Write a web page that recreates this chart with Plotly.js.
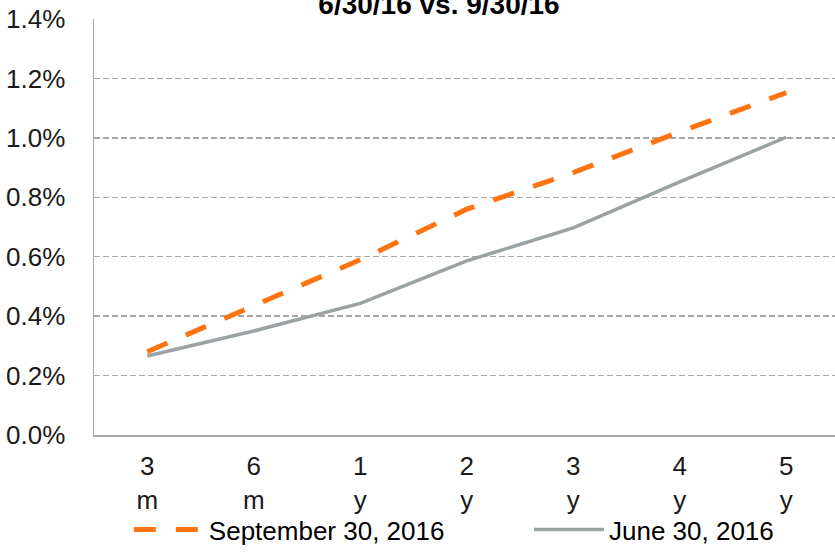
<!DOCTYPE html>
<html>
<head>
<meta charset="utf-8">
<script src="https://cdn.plot.ly/plotly-3.0.1.min.js"></script>
<style>html,body{margin:0;padding:0;background:#fff;overflow:hidden}</style>
</head>
<body>
<div id="chart" style="width:835px;height:553px"></div>
<script>
const categories = ["3<br>m", "6<br>m", "1<br>y", "2<br>y", "3<br>y", "4<br>y", "5<br>y"];
const sept2016 = [0.28, 0.435, 0.59, 0.76, 0.883, 1.02, 1.152];
const june2016 = [0.266, 0.35, 0.443, 0.586, 0.697, 0.852, 1.002];
const seriesNames = ["September 30, 2016", "June 30, 2016"];
const titleText = "6/30/16 vs. 9/30/16";

const FONT = "Liberation Sans, Arial, sans-serif";

const traces = [
  {
    x: categories, y: sept2016, name: seriesNames[0], type: "scatter", mode: "lines",
    line: {color: "#FF7410", width: 5, dash: "22px,20px"}, legend: "legend"
  },
  {
    x: categories, y: june2016, name: seriesNames[1], type: "scatter", mode: "lines",
    line: {color: "#9BA2A4", width: 3.5}, legend: "legend2"
  }
];

const legendBase = {
  orientation: "h", xanchor: "left", y: -0.006, yanchor: "bottom", yref: "container",
  font: {family: FONT, size: 26, color: "#000"},
  itemwidth: 70, bgcolor: "rgba(0,0,0,0)", borderwidth: 0
};

const layout = {
  width: 835, height: 553,
  margin: {l: 94, r: 0, t: 19, b: 118, pad: 0},
  paper_bgcolor: "#fff", plot_bgcolor: "#fff",
  font: {family: FONT, size: 26, color: "#1a1a1a"},
  title: {
    text: "<b>" + titleText + "</b>",
    font: {family: FONT, size: 28, color: "#000"},
    x: 439/835, xanchor: "center", xref: "container",
    y: 0.992, yanchor: "middle", yref: "container"
  },
  showlegend: true,
  legend: Object.assign({}, legendBase, {x: 0.047}),
  legend2: Object.assign({}, legendBase, {x: 0.587}),
  xaxis: {
    type: "category", range: [-0.5, 6.458], showgrid: false, zeroline: false,
    showline: true, linecolor: "#A6A6A6", linewidth: 1.5,
    ticks: "", ticklabelstandoff: 7,
    tickfont: {family: FONT, size: 26, color: "#1a1a1a"}, fixedrange: true
  },
  yaxis: {
    range: [0, 1.4], dtick: 0.2, tick0: 0, tickformat: ".1f", ticksuffix: "%",
    showgrid: true, gridcolor: "#A6A6A6", gridwidth: 1.5, griddash: "6px,3px",
    zeroline: false, showline: true, linecolor: "#A6A6A6", linewidth: 1.5,
    ticks: "", ticklabelstandoff: 22,
    tickfont: {family: FONT, size: 26, color: "#1a1a1a"}, fixedrange: true
  }
};

Plotly.newPlot("chart", traces, layout, {displayModeBar: false, staticPlot: true});
</script>
</body>
</html>
